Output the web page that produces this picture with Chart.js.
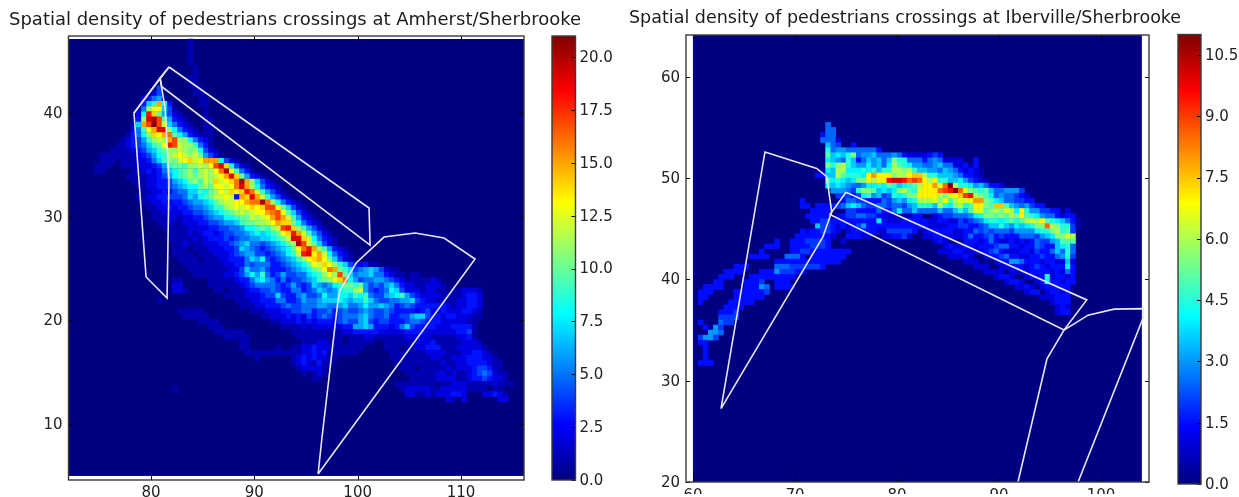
<!DOCTYPE html>
<html><head><meta charset="utf-8">
<script src="https://cdn.jsdelivr.net/npm/chart.js@4"></script>
<style>
html,body{margin:0;padding:0;background:#fff;width:1239px;height:497px;overflow:hidden}
canvas{position:absolute;top:0;filter:blur(0.45px)}
</style></head><body>
<canvas id="a" width="585" height="497" style="left:9px;width:585px;height:497px"></canvas>
<canvas id="b" width="80" height="497" style="left:545px;width:80px;height:497px"></canvas>
<canvas id="c" width="560" height="497" style="left:629px;width:560px;height:497px"></canvas>
<canvas id="d" width="69" height="497" style="left:1170px;width:69px;height:497px"></canvas>
<script>
const leftTitle = "Spatial density of pedestrians crossings at Amherst/Sherbrooke";
const rightTitle = "Spatial density of pedestrians crossings at Iberville/Sherbrooke";
const leftXTicks = [80,90,100,110];
const leftYTicks = [10,20,30,40];
const rightXTicks = [60,70,80,90,100];
const rightYTicks = [20,30,40,50,60];
const leftBarTicks = [0,2.5,5,7.5,10,12.5,15,17.5,20];
const rightBarTicks = [0,1.5,3,4.5,6,7.5,9,10.5];
const leftMax = 21, rightMax = 11;

// density cells: [row from top, first column, base-36 digits]; left digit = density, right digit = density*2
const leftCells = [
[0,23,"1"],[1,23,"1"],[2,23,"1"],[3,23,"1"],[4,23,"1"],[5,24,"1"],[6,24,"1"],[7,23,"11"],[8,23,"11"],
[9,17,"4"],[9,24,"11"],[10,16,"24"],[10,24,"11"],[11,14,"23561"],[11,25,"11"],[12,14,"379f83"],[12,25,"11"],
[13,13,"15bdd741"],[13,26,"1"],[14,13,"28iea6421"],[14,26,"1"],[15,13,"3bjkha6321"],[15,26,"11"],
[16,12,"17fhlhc75321"],[16,26,"11"],[17,12,"259dfjjb85321"],[17,26,"11"],
[18,11,"1358bedfga8632111"],[19,10,"123469bcbfhbb85321"],[20,9,"11234579adihcbb9531"],
[21,8,"1111234679abbcbab8421"],[22,6,"1111111234689bcdcbca6421"],
[23,6,"1110111223579bacdecdfff8421"],
[24,5,"11100111222346"],[24,19,"9aa9bbcbdhje8421"],
[25,5,"1100000122323"],[25,18,"5789ab9bcbdgkd9531"],
[26,11,"11112234689ababcbcdfjea6321"],
[27,12,"1112233467 8ab9cbecdegkfb7421"],
[28,13,"1122334567 88abaddcdgjfb85321"],
[29,14,"1122334557798abdcedeigc96421"],
[30,13,"112233444576 89accdc3fejfc96421"],
[31,14,"11223233456678abccddfggkgb85321"],
[32,15,"112232334556799bcdcdedehhda7421"],
[33,16,"112222334456789abcbcddfghda7421"],
[34,16,"11122122334566889aacbcdfhfc96321"],
[35,17,"11211222334456679aabbcdfeea85321"],
[36,18,"1111122223344556889a9bchieb96421"],
[37,19,"11112123323445567878 9adeifc96421"],
[38,19,"1111121233343455667789acjjec85321"],
[39,20,"11211122233456755456 78abkhca7421"],
[40,20,"111011122233476543 4567 8adgifb96321"],
[41,20,"111101112223456 64434568 9cijdfc85321"],
[42,21,"11110111223335768 4345679bdefda7421"],
[43,22,"11111111223354555 33456 78adcedb97432311"],
[44,23,"1111111122475564 33345678abdgfa9745676 4211"],
[45,24,"11111122346869 5346445578 9bdbha7566755 32110 11"],
[46,20,"11"],[46,27,"111112335786535344567 9abdeg864556654 32111112 1"],
[47,20,"22"],[47,27,"111111234555543 46434765689aa9a645467 5322112221"],
[48,20,"221"],[48,27,"01101112334454335534 57656 899bc643458 7422212211011 2221"],
[49,30,"11112223447433 564458668 879895446789 64322221111 2332"],
[50,17,"1"],[50,32,"1112233355 33465567778767 7975 445566 74322 121122332"],
[51,33,"111223334 544555665567 55 6866 76534 54333333 212 2332"],
[52,21,"11111"],[52,35,"1112223344 5534453 4544565 4454333 3234 22322 23321"],
[53,22,"11111"],[53,37,"11222 323 243454 34555 6754 453344 67743323 32221 1"],
[54,25,"1111"],[54,39,"11222 3232 33324 544 6743 443334 55433322 22211"],
[55,27,"111"],[55,41,"111121222222 33 6676333 2357433 33222 33331"],
[56,28,"111111"],[56,43,"1111111111 2233333 2222233332 2222 2 3341"],
[57,30,"11111"],[57,44,"1111111110 1112211111 122222 11111 2231"],
[58,33,"11"],[58,45,"111221110 111110011 1111 222 31111 12221"],
[59,33,"11"],[59,40,"1"],[59,43,"1122322211111100 001110 11223 3311 1222221"],
[60,34,"11111111111"],[60,45,"22323111111000000 1111111 2222111 223321"],
[61,36,"1"],[61,43,"123232211"],[61,62,"111111112211222333221"],
[62,43,"12321311"],[62,63,"111111111211223333211"],
[63,44,"122221"],[63,64,"11101111121222344311"],
[64,45,"10121"],[64,65,"11111122121123454211"],
[65,47,"11"],[65,66,"1111122221123343221"],
[66,63,"11111111011222111112111"],[67,20,"1"],[67,64,"12222211222221111011"],
[68,65,"22112122233200022321"],[69,73,"2102"],[69,83,"22"]
].map(([r,c,s])=>[r,c,s.replace(/ /g,"")]);

const rightCells = [
[17,26,"5"],[18,26,"55"],[19,25,"355"],[20,25,"5552"],[21,26,"754003"],
[22,26,"95665555553"],[23,26,"a7879b56675556532222343"],
[24,26,"8765973576757b9955535652222003"],
[25,26,"b9bc976686758ca986655675522313"],
[26,25,"187cc888989799ccbc97766576532321"],
[27,24,"3377ca9998egeeebcceffc99777653321"],
[28,26,"a89878bbeceejkkjhihece9977864321"],
[29,26,"878765568898a9789aceegdhmc998675332"],
[30,27,"666549bba7878bca9deeehijmhdba9a7556664"],
[31,28,"44434896745989bbeeeecbdefijcba85655432"],
[32,21,"3"],[32,29,"355443335467689cccdbeacddeggba87554433"],
[33,21,"33"],[33,24,"333345787544554554679997c98bc9aeebaffa7656433"],
[34,23,"3333"],[34,30,"443333533585575555755797addabcbdc8e966443302"],
[35,22,"33333023445544322201133002344555689bbabacbea986553233"],
[36,23,"334433333333383222333332233224345689989a9acdcea987531"],
[37,24,"7443232346333333333333222233443345779768789bbhcb9941"],
[38,21,"3233443202333332244444302333332233545455546666899bc9a4"],
[39,20,"333333320033322002233420022332222353345343335554678bbdc"],
[40,16,"3"],[40,19,"33344443"],[40,29,"2"],[40,47,"232"],[40,53,"3332353223232354467aaa"],
[41,14,"333"],[41,19,"33334443"],[41,49,"23223323334553323354337895"],
[42,13,"3"],[42,19,"3344333"],[42,26,"33333"],[42,48,"2223322223453222332433 57595"],
[43,11,"3333"],[43,18,"5553"],[43,23,"333"],[43,26,"3333"],[43,50,"22232"],[43,57,"233453322334335694"],
[44,16,"3333333333"],[44,26,"333"],[44,53,"222"],[44,59,"233665333233 2272"],
[45,8,"333"],[45,16,"5554444443"],[45,55,"222"],[45,60,"222332343233383"],
[46,6,"3333"],[46,13,"333644433"],[46,57,"2222"],[46,62,"22223333232 53"],
[47,5,"333"],[47,11,"333333333"],[47,59,"2332"],[47,65,"2323923323"],
[48,4,"33"],[48,10,"3334"],[48,16,"333"],[48,61,"2332"],[48,67,"23833233"],
[49,2,"3333"],[49,10,"33365"],[49,16,"3333"],[49,63,"2232"],[49,68,"233333"],
[50,1,"333"],[50,8,"3333334"],[50,65,"233"],[50,69,"23323"],
[51,1,"33"],[51,8,"333333"],[51,68,"222333"],
[52,1,"3"],[52,7,"33333"],[52,70,"2333"],
[53,6,"3333"],[53,71,"232"],[54,5,"3334"],[54,71,"233"],
[55,5,"4444"],[56,1,"3"],[56,5,"544"],[57,2,"3"],[57,4,"64"],
[58,3,"665"],[59,1,"4664"],[60,1,"33"],[61,2,"3"],[62,2,"3"],[63,2,"3"],[64,1,"333"]
].map(([r,c,s])=>[r,c,s.replace(/ /g,"")]);

// outlines in data units
const polyA = [[81.74,44.44],[101.1,30.84],[101.2,27.27],[81.04,42.54],[80.87,43.38],[81.74,44.44]];
const polyB = [[80.87,43.38],[78.35,40],[79.52,24.19],[81.55,22.16],[81.74,33.54],[81.36,40.48],[80.87,43.38]];
const polyBTip = [[81.74,44.44],[78.35,40]];
const polyC = [[96.17,5.19],[96.52,8.47],[98.1,21.97],[98.3,22.93],[99.85,25.54],[102.55,28.04],[105.56,28.43],[108.36,27.95],[111.36,25.92],[96.17,5.19]];
const polyD = [[62.75,27.25],[67.06,52.58],[72.13,50.95],[73.11,50.13],[73.6,46.67],[72.75,44.22],[62.75,27.25]];
const polyE = [[75,48.6],[98.6,37.97],[96.37,35],[73.43,46.4],[75,48.6]];
const polyF = [[91.86,20],[94.7,32.16],[96.37,35],[98.73,36.47],[101.27,37.06],[104.12,37.11],[104.12,36.18],[97.75,20]];

// image extents in data units [x0,x1,y0,y1]
const leftImage = [72.06,116.1,5,47.14];
const rightImage = [60,104,20,64.12];

function jet(t){
  t=Math.max(0,Math.min(1,t));
  const f=v=>Math.round(255*Math.max(0,Math.min(1,1.5-Math.abs(4*t-v))));
  return `rgb(${f(3)},${f(2)},${f(1)})`;
}
function toPoints(rows,x0,yTop,scale){
  const pts=[];
  for(const [r,c,s] of rows){
    [...s].forEach((ch,i)=>{
      const v=parseInt(ch,36);
      if(v>0) pts.push({x:x0+0.5*(c+i+0.5),y:yTop-0.5*(r+0.5),v:v*scale});
    });
  }
  return pts;
}
const frame={id:'frame',afterDatasetsDraw(ch,_,o){
  const {ctx,chartArea:a,scales}=ch;
  ctx.save();ctx.strokeStyle='#000';ctx.lineWidth=1;
  const L=4;
  if(o.barOnly){
    for(const t of scales.y.ticks){const p=Math.round(scales.y.getPixelForValue(t.value))+.5;
      ctx.beginPath();ctx.moveTo(a.right-L,p);ctx.lineTo(a.right,p);ctx.stroke();}
  } else {
    for(const t of scales.x.ticks){const p=Math.round(scales.x.getPixelForValue(t.value))+.5;
      ctx.beginPath();ctx.moveTo(p,a.bottom);ctx.lineTo(p,a.bottom-L);ctx.moveTo(p,a.top);ctx.lineTo(p,a.top+L);ctx.stroke();}
    for(const t of scales.y.ticks){const p=Math.round(scales.y.getPixelForValue(t.value))+.5;
      ctx.beginPath();ctx.moveTo(a.left,p);ctx.lineTo(a.left+L,p);ctx.moveTo(a.right,p);ctx.lineTo(a.right-L,p);ctx.stroke();}
  }
  ctx.strokeStyle='#3a3a3a';ctx.lineWidth=1.4;
  ctx.strokeRect(a.left,a.top,a.right-a.left,a.bottom-a.top);
  ctx.restore();
}};
const ground={id:'ground',beforeDatasetsDraw(ch,_,o){
  const {ctx,scales:{x,y}}=ch,[x0,x1,y0,y1]=o.extent;
  const l=x.getPixelForValue(x0),r=x.getPixelForValue(x1),t=y.getPixelForValue(y1),b=y.getPixelForValue(y0);
  ctx.save();ctx.fillStyle=jet(0);ctx.fillRect(l,t,r-l,b-t);ctx.restore();
}};
const tickFont={family:'"DejaVu Sans"',size:15};
const tickColor='#222';
function panel(id,cfg){
  const line=p=>({data:p.map(([x,y])=>({x,y})),showLine:true,pointRadius:0,borderColor:'#e6e6ee',borderWidth:1.6,fill:false,order:0});
  return new Chart(document.getElementById(id),{
    type:'scatter',
    data:{datasets:[...cfg.polys.map(line),{
      data:cfg.points,pointStyle:'rect',pointRadius:3.95,pointBorderWidth:0,pointHoverRadius:3.95,
      pointBackgroundColor:c=>jet((c.raw?c.raw.v:0)/cfg.vmax),order:1,showLine:false}]},
    plugins:[ground,frame],
    options:{responsive:false,animation:false,devicePixelRatio:1,
      layout:{padding:0},
      events:[],
      plugins:{legend:{display:false},tooltip:{enabled:false},
        title:{display:true,text:cfg.title,align:'start',fullSize:true,color:'#1c1c1c',
          font:{family:'"DejaVu Sans"',size:cfg.titleSize,weight:'normal'},padding:cfg.titlePad},
        ground:{extent:cfg.image},frame:{}},
      scales:{
        x:{type:'linear',min:cfg.xr[0],max:cfg.xr[1],grid:{display:false,drawTicks:false},border:{display:false},
          afterBuildTicks(s){s.ticks=cfg.xt.map(v=>({value:v}))},
          afterFit(s){s.height=cfg.xh},
          ticks:{autoSkip:false,maxRotation:0,font:tickFont,color:tickColor,padding:cfg.xpad,callback:v=>String(v)}},
        y:{type:'linear',min:cfg.yr[0],max:cfg.yr[1],grid:{display:false,drawTicks:false},border:{display:false},
          afterBuildTicks(s){s.ticks=cfg.yt.map(v=>({value:v}))},
          afterFit(s){s.width=cfg.yw},
          ticks:{autoSkip:false,font:tickFont,color:tickColor,padding:6,labelOffset:1,callback:v=>String(v)}},
        spare:{type:'linear',position:'right',display:true,grid:{display:false,drawTicks:false},border:{display:false},
          ticks:{display:false},afterFit(s){s.width=cfg.rw}}
      }}
  });
}
function bar(id,cfg){
  return new Chart(document.getElementById(id),{
    type:'bar',
    data:{labels:[''],datasets:[{data:[[0,cfg.vmax]],barPercentage:1,categoryPercentage:1,borderWidth:0,
      backgroundColor(c){
        const a=c.chart.chartArea; if(!a) return '#000080';
        const g=c.chart.ctx.createLinearGradient(0,a.bottom,0,a.top);
        for(let i=0;i<=32;i++) g.addColorStop(i/32,jet(i/32));
        return g;
      }}]},
    plugins:[frame],
    options:{responsive:false,animation:false,devicePixelRatio:1,events:[],
      layout:{padding:{left:cfg.pl,top:cfg.pt,bottom:cfg.pb}},
      plugins:{legend:{display:false},tooltip:{enabled:false},frame:{barOnly:true}},
      scales:{
        x:{display:false},
        y:{position:'right',min:0,max:cfg.vmax,grid:{display:false,drawTicks:false},border:{display:false},
          afterBuildTicks(s){s.ticks=cfg.t.map(v=>({value:v}))},
          afterFit(s){s.width=cfg.w},
          ticks:{autoSkip:false,font:tickFont,color:tickColor,padding:4,labelOffset:1,callback:v=>v.toFixed(1)}}
      }}
  });
}
panel('a',{title:leftTitle,titleSize:18,titlePad:{top:9.2,bottom:5.2},polys:[polyA,polyB,polyBTip,polyC],
  points:toPoints(leftCells,leftImage[0],leftImage[3],1),vmax:leftMax,image:leftImage,
  xr:[72.01,116.1],yr:[4.61,47.43],xt:leftXTicks,yt:leftYTicks,xh:17,xpad:4,yw:59.5,rw:70});
bar('b',{vmax:leftMax,t:leftBarTicks,pl:7,pt:36,pb:17,w:49.5});
panel('c',{title:rightTitle,titleSize:17.5,titlePad:{top:7.6,bottom:6.4},polys:[polyD,polyE,polyF],
  points:toPoints(rightCells,rightImage[0],64,0.5),vmax:rightMax,image:rightImage,
  xr:[59.32,104.7],yr:[20,64.12],xt:rightXTicks,yt:rightYTicks,xh:12,xpad:5,yw:57,rw:40});
bar('d',{vmax:rightMax,t:rightBarTicks,pl:8,pt:34.5,pb:11,w:38});
</script>
</body></html>
